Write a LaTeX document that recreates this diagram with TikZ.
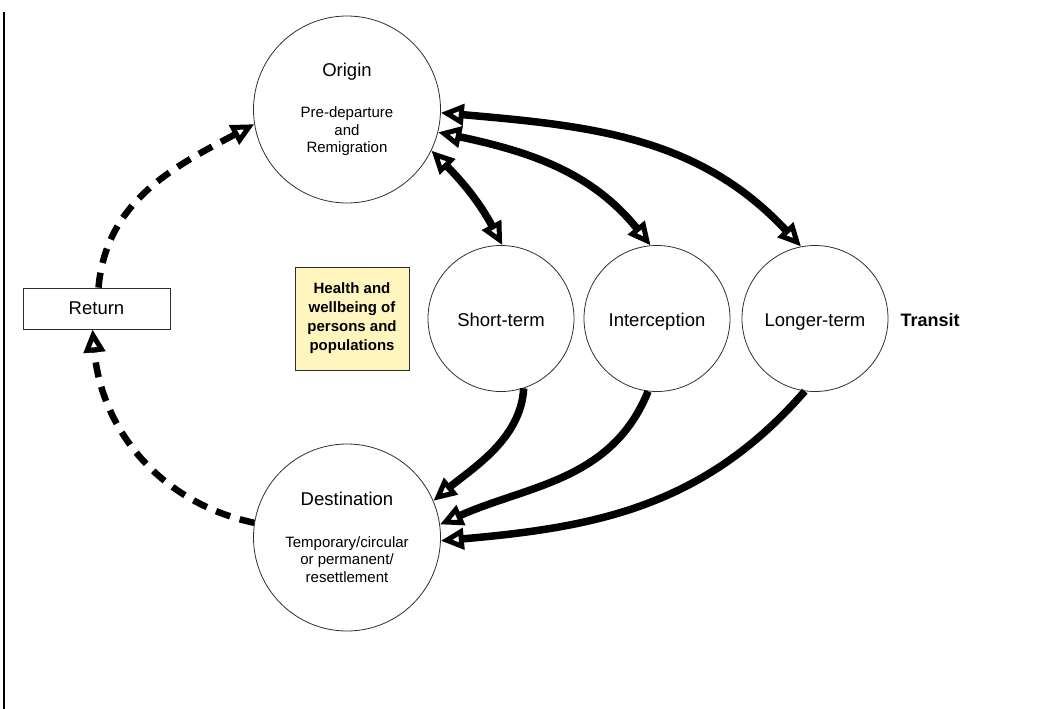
\documentclass[tikz,border=0pt]{standalone}
\usepackage{fontspec}
\setmainfont{Liberation Sans}
\usetikzlibrary{positioning,arrows.meta}
\definecolor{paleyellow}{HTML}{FFF5BF}
\definecolor{edgegray}{HTML}{2E2E2E}
\newcommand{\circlabelfont}{\fontsize{18.5}{17.5}\selectfont}
\newcommand{\circnotefont}{\fontsize{15}{17.5}\selectfont}
\newcommand{\boxboldfont}{\fontsize{15}{19}\selectfont\bfseries}

\begin{document}
\begin{tikzpicture}[x=1pt, y=1pt,
    >={Triangle[open,length=23pt,width=21pt,line width=5pt]},
    bigcirc/.style={circle, draw=edgegray, line width=0.8pt, minimum size=187pt,
      inner sep=0pt, align=center, font=\circlabelfont},
    smallcirc/.style={circle, draw=edgegray, line width=0.8pt, minimum size=146pt,
      inner sep=0pt, text height=15pt, text depth=0pt, font=\circlabelfont},
    flow/.style={line width=7.5pt},
    backflow/.style={line width=6.5pt, dash pattern=on 15pt off 10pt}]
  \useasboundingbox (0,0) rectangle (1049,-709);
  \draw[line width=2.5pt] (4,-12) -- (4,-709);

  % places
  \node[bigcirc] (origin) at (347,-109.5)
    {Origin\\[24pt]\circnotefont Pre-departure\\\circnotefont and\\\circnotefont Remigration};
  \node[bigcirc] (dest) at (347,-537.5)
    {Destination\\[24pt]\circnotefont Temporary/circular\\\circnotefont or permanent/\\\circnotefont resettlement};
  \node[smallcirc] (short) at (501,-318.5) {Short-term};
  \node[smallcirc] (intercept) at (657,-318.5) {Interception};
  \node[smallcirc] (longer) at (815,-318.5) {Longer-term};
  \node[font=\fontsize{18}{22}\selectfont\bfseries] (transit) at (930,-320) {Transit};
  \node[draw=edgegray, line width=0.8pt, minimum width=147pt, minimum height=41pt,
    font=\circlabelfont] (return) at (96.5,-308.5) {Return};
  \node[draw=edgegray, line width=0.8pt, fill=paleyellow, minimum width=114pt,
    minimum height=103pt, inner sep=0pt, align=center, font=\boxboldfont]
    (health) at (352,-318.5) {Health and\\wellbeing of\\persons and\\populations};

  % transit legs
  \draw[flow, <->] (origin.-26) to[out=-45, in=118] (short.89);
  \draw[flow, <->] (origin.-14) to[out=-12, in=129] (intercept.95);
  \draw[flow, <->] (origin.-2) to[out=-5, in=133] (longer.101);
  \draw[flow, ->] (short.-72) to[out=-93, in=40, looseness=0.9] (dest.23);
  \draw[flow, ->] (intercept.-97) to[out=-112, in=24] (dest.8);
  \draw[flow, ->] (longer.-98) to[out=-131, in=5] (dest.-2);

  % return loop
  \draw[backflow, ->] (dest.171) to[out=168, in=-85] ([xshift=-4pt]return.south);
  \draw[backflow, ->] ([xshift=2pt]return.north) to[out=85, in=208] (origin.189);
\end{tikzpicture}
\end{document}
